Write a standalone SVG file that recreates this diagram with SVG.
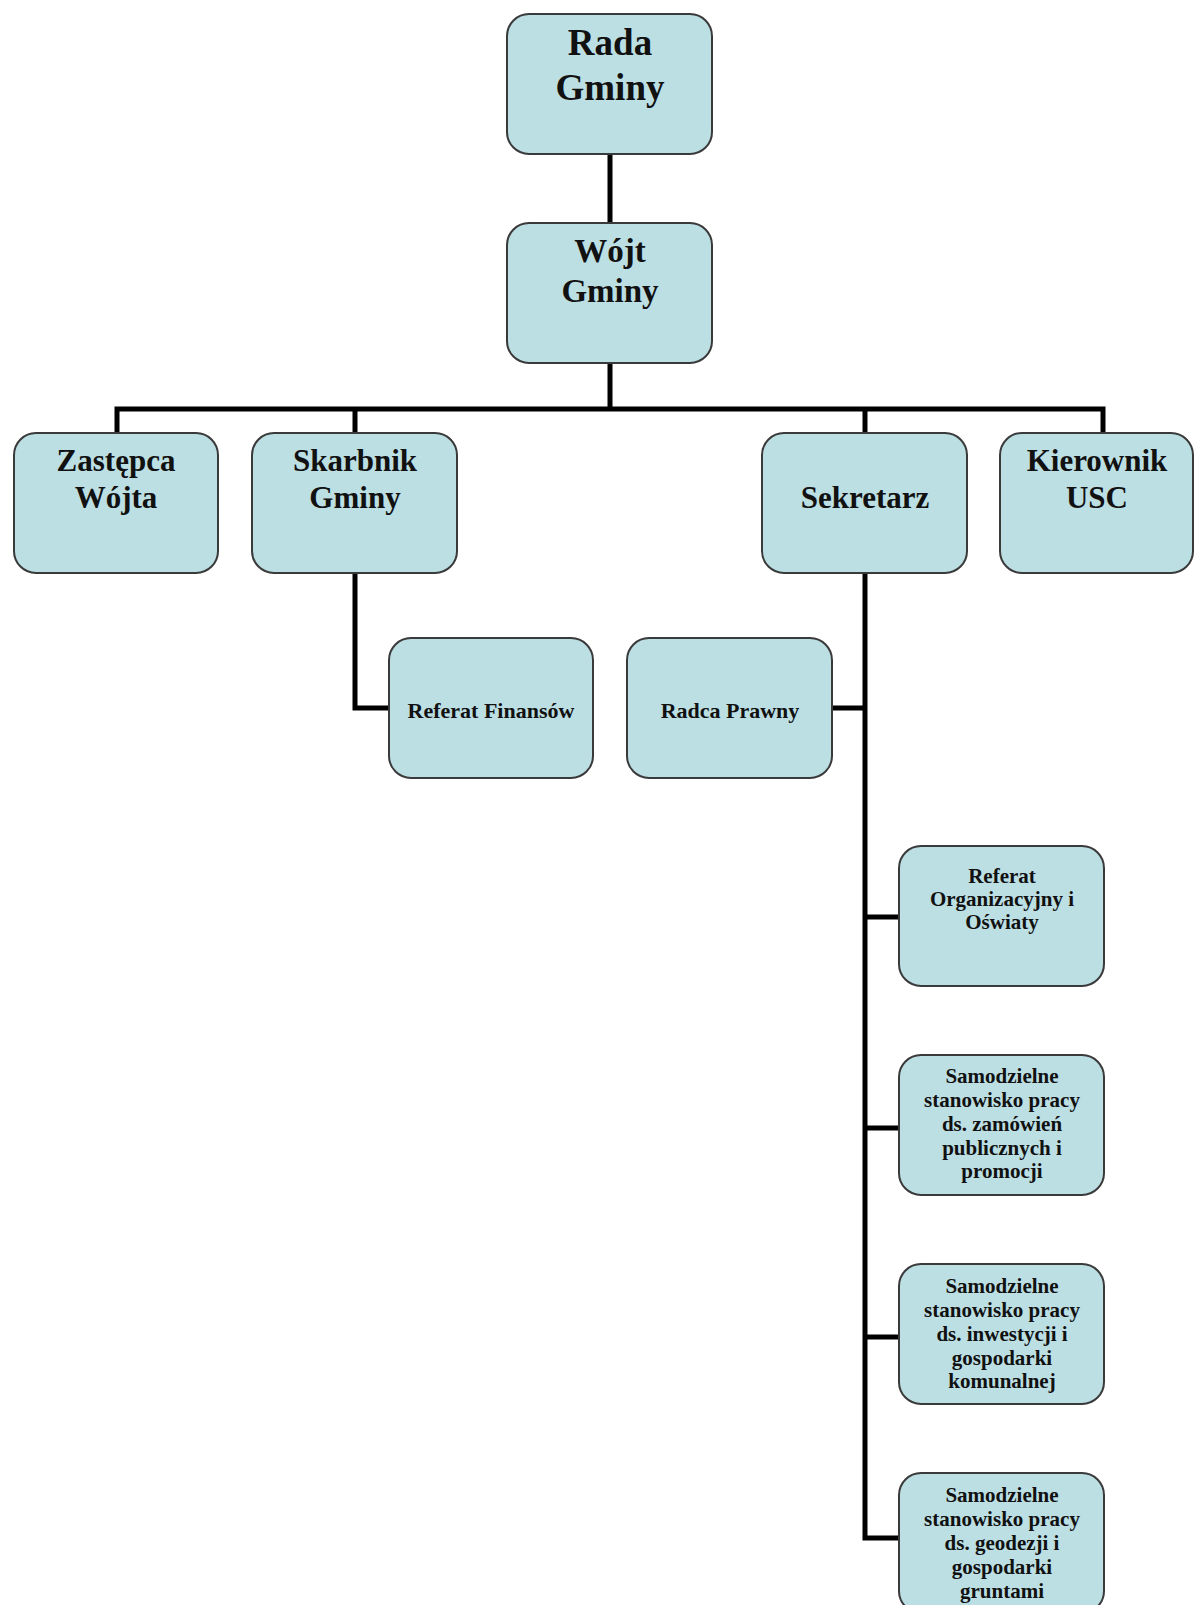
<svg xmlns="http://www.w3.org/2000/svg" width="1195" height="1605" viewBox="0 0 1195 1605">
<style>
.box{fill:#bcdfe4;stroke:#3a3a3a;stroke-width:2}
.t{font-family:"Liberation Serif","Times New Roman",serif;font-weight:bold;fill:#111;text-anchor:middle}
.big{font-size:37px}
.mid{font-size:33px}
.lvl{font-size:31px}
.sm{font-size:22px}
.xs{font-size:21px}
.c{fill:none;stroke:#000;stroke-width:5}
</style>
<rect width="1195" height="1605" fill="#fff"/>
<g id="connectors">
<path class="c" d="M610 154V223"/>
<path class="c" d="M610 363V409"/>
<path class="c" d="M117 433V409H1103V433"/>
<path class="c" d="M355 409V433"/>
<path class="c" d="M865 409V433"/>
<path class="c" d="M355 573V708H389"/>
<path class="c" d="M865 573V1538H899"/>
<path class="c" d="M832 708H865"/>
<path class="c" d="M865 917H899"/>
<path class="c" d="M865 1128H899"/>
<path class="c" d="M865 1337H899"/>
</g>
<g id="rada">
<rect class="box" x="507" y="14" width="205" height="140" rx="22"/>
<text class="t big" x="610" y="55">Rada</text>
<text class="t big" x="610" y="100">Gminy</text>
</g>
<g id="wojt">
<rect class="box" x="507" y="223" width="205" height="140" rx="22"/>
<text class="t mid" x="610" y="262">Wójt</text>
<text class="t mid" x="610" y="302">Gminy</text>
</g>
<g id="zastepca">
<rect class="box" x="14" y="433" width="204" height="140" rx="22"/>
<text class="t lvl" x="116" y="471">Zastępca</text>
<text class="t lvl" x="116" y="508">Wójta</text>
</g>
<g id="skarbnik">
<rect class="box" x="252" y="433" width="205" height="140" rx="22"/>
<text class="t lvl" x="355" y="471">Skarbnik</text>
<text class="t lvl" x="355" y="508">Gminy</text>
</g>
<g id="sekretarz">
<rect class="box" x="762" y="433" width="205" height="140" rx="22"/>
<text class="t lvl" x="865" y="508">Sekretarz</text>
</g>
<g id="kierownik">
<rect class="box" x="1000" y="433" width="193" height="140" rx="22"/>
<text class="t lvl" x="1097" y="471">Kierownik</text>
<text class="t lvl" x="1097" y="508">USC</text>
</g>
<g id="referat-finansow">
<rect class="box" x="389" y="638" width="204" height="140" rx="22"/>
<text class="t sm" x="491" y="718">Referat Finansów</text>
</g>
<g id="radca">
<rect class="box" x="627" y="638" width="205" height="140" rx="22"/>
<text class="t sm" x="730" y="718">Radca Prawny</text>
</g>
<g id="referat-org">
<rect class="box" x="899" y="846" width="205" height="140" rx="22"/>
<text class="t xs" x="1002" y="883">Referat</text>
<text class="t xs" x="1002" y="906">Organizacyjny i</text>
<text class="t xs" x="1002" y="929">Oświaty</text>
</g>
<g id="zamowienia">
<rect class="box" x="899" y="1055" width="205" height="140" rx="22"/>
<text class="t xs" x="1002" y="1083">Samodzielne</text>
<text class="t xs" x="1002" y="1107">stanowisko pracy</text>
<text class="t xs" x="1002" y="1131">ds. zamówień</text>
<text class="t xs" x="1002" y="1155">publicznych i</text>
<text class="t xs" x="1002" y="1178">promocji</text>
</g>
<g id="inwestycje">
<rect class="box" x="899" y="1264" width="205" height="140" rx="22"/>
<text class="t xs" x="1002" y="1293">Samodzielne</text>
<text class="t xs" x="1002" y="1317">stanowisko pracy</text>
<text class="t xs" x="1002" y="1341">ds. inwestycji i</text>
<text class="t xs" x="1002" y="1365">gospodarki</text>
<text class="t xs" x="1002" y="1388">komunalnej</text>
</g>
<g id="geodezja">
<rect class="box" x="899" y="1473" width="205" height="140" rx="22"/>
<text class="t xs" x="1002" y="1502">Samodzielne</text>
<text class="t xs" x="1002" y="1526">stanowisko pracy</text>
<text class="t xs" x="1002" y="1550">ds. geodezji i</text>
<text class="t xs" x="1002" y="1574">gospodarki</text>
<text class="t xs" x="1002" y="1598">gruntami</text>
</g>
</svg>
